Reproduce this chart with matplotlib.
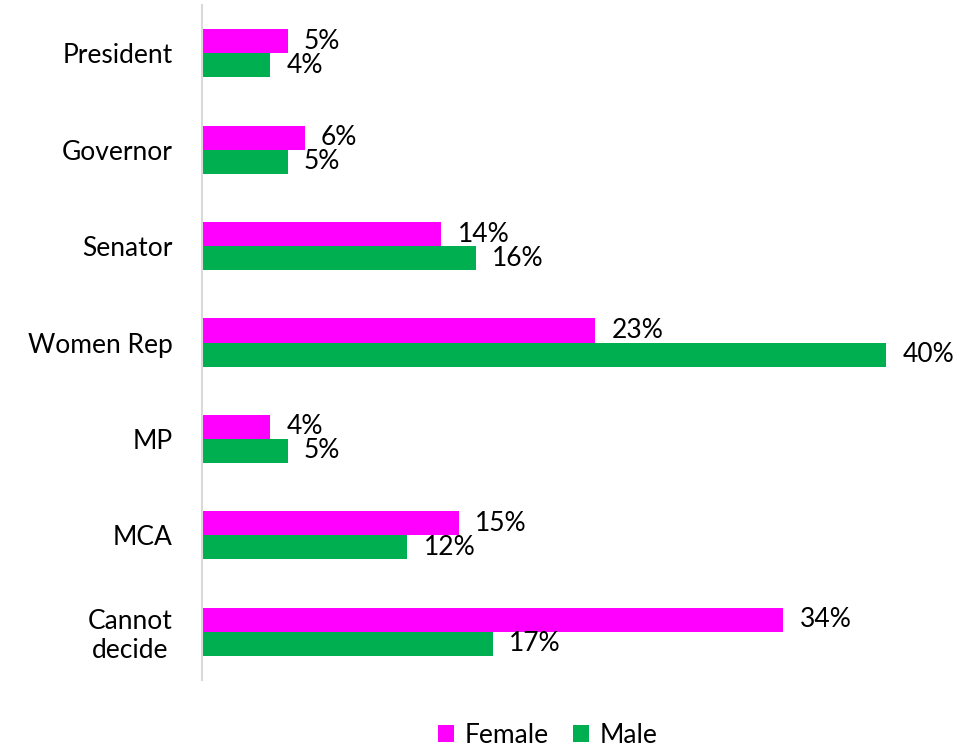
import matplotlib
matplotlib.use("Agg")
import matplotlib.pyplot as plt
from matplotlib.patches import Patch
import numpy as np

plt.rcParams['font.family'] = ['Lato', 'DejaVu Sans']

categories = ["President", "Governor", "Senator", "Women Rep", "MP", "MCA", "Cannot\ndecide"]
female = [5, 6, 14, 23, 4, 15, 34]
male = [4, 5, 16, 40, 5, 12, 17]
series_names = ["Female", "Male"]
colors = ["#FF00FF", "#00B050"]

FS = 19

fig = plt.figure(figsize=(9.66, 7.47), dpi=100)
ax = fig.add_axes([202 / 966, 1 - 680 / 747, 684 / 966, 675 / 747])

y = np.arange(len(categories))
h = 0.25
ax.barh(y - h / 2, female, height=h, color=colors[0])
ax.barh(y + h / 2, male, height=h, color=colors[1])

for yi, v in zip(y - h / 2, female):
    ax.text(v + 0.95, yi, f"{v}%", va="center", ha="left", fontsize=FS)
for yi, v in zip(y + h / 2, male):
    ax.text(v + 0.95, yi, f"{v}%", va="center", ha="left", fontsize=FS)

ax.set_xlim(0, 40)
ax.set_ylim(len(categories) - 0.5, -0.5)
ax.set_yticks(y)
ax.set_yticklabels(categories, fontsize=FS, linespacing=1.2, ha="right",
                   multialignment="center")
ax.tick_params(axis="y", length=0, pad=21)
ax.set_xticks([])
for s in ["top", "right", "bottom"]:
    ax.spines[s].set_visible(False)
ax.spines["left"].set_color("#D9D9D9")
ax.spines["left"].set_linewidth(1.5)

handles = [Patch(facecolor=c, edgecolor="none") for c in colors]
fig.legend(handles, series_names, loc="center", bbox_to_anchor=(0.567, 0.016),
           ncol=2, frameon=False, fontsize=FS, handlelength=0.6, handleheight=0.6,
           handletextpad=0.4, columnspacing=0.95)

fig.savefig("out.png", dpi=100)
